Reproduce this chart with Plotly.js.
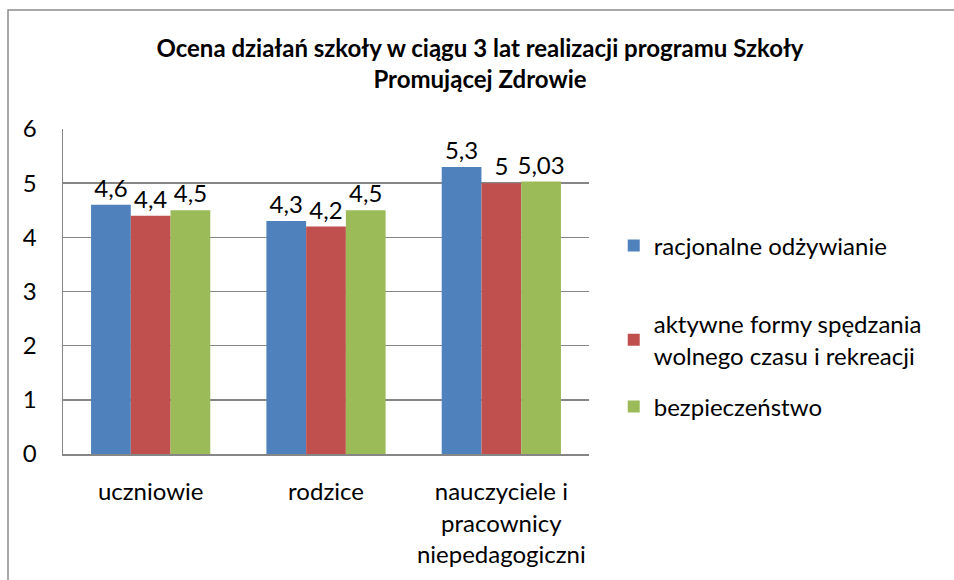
<!DOCTYPE html>
<html>
<head>
<meta charset="utf-8">
<script src="https://cdn.plot.ly/plotly-3.0.1.min.js"></script>
<style>html,body{margin:0;padding:0;background:#fff;}#chart{width:954px;height:580px;}</style>
</head>
<body>
<div id="chart"></div>
<script>
const categories = ["uczniowie", "rodzice", "nauczyciele i<br>pracownicy<br>niepedagogiczni"];
const seriesNames = ["racjonalne odżywianie", "aktywne formy spędzania<br>wolnego czasu i rekreacji", "bezpieczeństwo"];
const racjonalne = [4.6, 4.3, 5.3];
const aktywne = [4.4, 4.2, 5.0];
const bezpieczenstwo = [4.5, 4.5, 5.03];
const yTicks = [0, 1, 2, 3, 4, 5, 6];

const colors = ["#4F81BD", "#C0504D", "#9BBB59"];
const FONT = "Lato, 'Liberation Sans', sans-serif";
const FS = 24;
const fmt = v => String(v).replace('.', ',');

const legendIds = ['legend', 'legend2', 'legend3'];
const allSeries = [racjonalne, aktywne, bezpieczenstwo];
const traces = allSeries.map((vals, i) => ({
  type: 'bar',
  name: seriesNames[i],
  x: [0, 1, 2],
  y: vals,
  text: vals.map(fmt),
  textposition: 'outside',
  constraintext: 'none',
  textfont: {family: FONT, size: FS, color: '#000'},
  cliponaxis: false,
  marker: {color: colors[i], line: {width: 0}},
  legend: legendIds[i],
  hoverinfo: 'none'
}));

// plot area: x 63..589, y 129..454 (px)
const pyLegend = Y => (454 - Y) / 325;
const legendBase = {
  x: 1.047, xanchor: 'left', yanchor: 'middle',
  font: {family: FONT, size: FS, color: '#000'},
  itemwidth: 30,
  bgcolor: 'rgba(0,0,0,0)'
};

const layout = {
  width: 954,
  height: 580,
  margin: {l: 63, r: 365, t: 129, b: 126},
  paper_bgcolor: '#fff',
  plot_bgcolor: '#fff',
  font: {family: FONT, size: FS, color: '#000'},
  title: {
    text: '<b>Ocena działań szkoły w ciągu 3 lat realizacji programu Szkoły<br>Promującej Zdrowie</b>',
    font: {family: FONT, size: 24, color: '#000'},
    x: 480 / 954, xanchor: 'center', xref: 'container',
    y: 1 - 57 / 580, yanchor: 'top', yref: 'container'
  },
  barmode: 'group',
  bargap: 0.32,
  bargroupgap: 0,
  xaxis: {
    tickmode: 'array',
    tickvals: [0, 1, 2],
    ticktext: categories,
    range: [-0.5, 2.5],
    showgrid: false,
    showline: true,
    linecolor: '#868686',
    linewidth: 1.5,
    ticks: '',
    ticklabelstandoff: 16,
    tickfont: {family: FONT, size: FS, color: '#000'},
    fixedrange: true
  },
  yaxis: {
    range: [0, 6],
    tickmode: 'array',
    tickvals: yTicks,
    ticktext: yTicks.map(String),
    showgrid: true,
    gridcolor: '#868686',
    gridwidth: 1.5,
    showline: true,
    linecolor: '#868686',
    linewidth: 1.5,
    zeroline: false,
    ticks: '',
    ticklabelstandoff: 20,
    tickfont: {family: FONT, size: FS, color: '#000'},
    fixedrange: true
  },
  showlegend: true,
  legend: Object.assign({}, legendBase, {y: pyLegend(246)}),
  legend2: Object.assign({}, legendBase, {y: pyLegend(340)}),
  legend3: Object.assign({}, legendBase, {y: pyLegend(407)}),
  shapes: [{
    type: 'rect', xref: 'paper', yref: 'paper',
    x0: (8 - 63) / 526, x1: 2, y0: -1, y1: 1 + (129 - 10) / 325,
    line: {color: '#8C8C8C', width: 1.5}, fillcolor: 'rgba(0,0,0,0)', layer: 'below'
  }]
};

Plotly.newPlot('chart', traces, layout, {displayModeBar: false, staticPlot: true});
</script>
</body>
</html>
